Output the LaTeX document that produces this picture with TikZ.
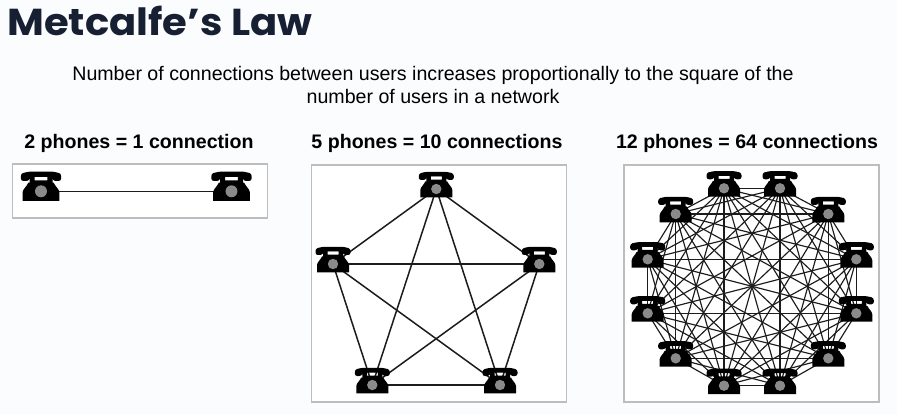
\documentclass[tikz,border=0pt]{standalone}
\usepackage{fontspec}
\setmainfont{Liberation Sans}
\newfontfamily\titlefont{Poppins}[FakeStretch=1.07]
\usetikzlibrary{backgrounds}
\definecolor{pagebg}{HTML}{FBFCFD}
\definecolor{titleink}{HTML}{172033}
\definecolor{frameink}{HTML}{BDBDBD}
\definecolor{dialink}{HTML}{8A8A8A}
\definecolor{wireink}{HTML}{1C1C1C}
\tikzset{
  phonespot/.style={inner sep=0pt,minimum size=1pt},
  panel/.style={draw=frameink,line width=1.2pt,fill=white,inner sep=0pt,minimum width=255pt},
  wire/.style={draw=wireink,line width=1.5pt},
  thinwire/.style={draw=wireink,line width=1.15pt},
  headline/.style={inner sep=0pt,anchor=center,font=\bfseries\fontsize{19.6}{22}\selectfont,text=black},
  bodytext/.style={inner sep=0pt,anchor=center,align=center,font=\fontsize{19.6}{23.5}\selectfont,text=black}
}
% name, x, y, scale: the node sits at the centre of the dial
\newcommand{\phone}[4]{%
  \node[phonespot] (#1) at (#2,#3) {};
  \begin{scope}[shift={(#2,#3)},scale=#4]
    \fill[black,rounded corners=2.4pt] (-17.5,-9) -- (-17.5,-15.5) -- (-10,-17.2) -- (10,-17.2) -- (17.5,-15.5) -- (17.5,-9) -- (10.5,-9) -- (9.5,-12.5) -- (-9.5,-12.5) -- (-10.5,-9) -- cycle;
    \fill[black] (-10,-14) rectangle (-5.5,-6) (5.5,-14) rectangle (10,-6) (-10,-14) rectangle (10,-12.8) (-10,-9.4) rectangle (10,-6);
    \fill[black] (-11,-7.5) -- (11,-7.5) .. controls (12.5,-4) and (15.8,-2) .. (16,1) -- (16,8.3) -- (-16,8.3) -- (-16,1) .. controls (-15.8,-2) and (-12.5,-4) .. (-11,-7.5) -- cycle;
    \fill[dialink] (0,0) circle (5.2);
  \end{scope}
}
\begin{document}
\begin{tikzpicture}[x=1pt,y=-1pt]
\useasboundingbox (0,0) rectangle (897,414);
\node[inner sep=0pt,anchor=base west,text=titleink] (title) at (7,36) {\titlefont\bfseries\fontsize{37.5}{40}\selectfont Metcalfe’s Law};
\node[bodytext] (intro) at (433,85) {Number of connections between users increases proportionally to the square of the\\number of users in a network};
\node[headline] (h1) at (139,143) {2 phones = 1 connection};
\node[headline] (h2) at (437,143) {5 phones = 10 connections};
\node[headline] (h3) at (747,143) {12 phones = 64 connections};
% two phones
\phone{a1}{41}{191.3}{1.15}
\phone{a2}{231.5}{191.3}{1.15}
% five phones
\phone{b1}{436.3}{189}{1}
\phone{b2}{539.3}{264}{1}
\phone{b3}{500}{385}{1}
\phone{b4}{372.3}{385}{1}
\phone{b5}{333}{264}{1}
% twelve phones
\phone{c1}{724}{188.3}{1}
\phone{c2}{780}{188.3}{1}
\phone{c3}{828.3}{214}{1}
\phone{c4}{856.3}{259.3}{1}
\phone{c5}{856.3}{313.3}{1}
\phone{c6}{828.3}{358.3}{1}
\phone{c7}{780}{385.7}{1}
\phone{c8}{724}{385.7}{1}
\phone{c9}{675.7}{358.3}{1}
\phone{c10}{647.7}{313.3}{1}
\phone{c11}{647.7}{259.3}{1}
\phone{c12}{675.7}{214}{1}
\begin{scope}[on background layer]
  \fill[pagebg] (0,0) rectangle (897,414);
  \node[panel,minimum height=54pt] (f1) at (140,191) {};
  \node[panel,minimum height=237pt] (f2) at (439,283.5) {};
  \node[panel,minimum height=237pt] (f3) at (751.5,283.5) {};
  \draw[wire] (a1.center) -- (a2.center);
  \foreach \i in {1,...,4}{
    \pgfmathtruncatemacro{\first}{\i+1}
    \foreach \j in {\first,...,5}{
      \draw[wire] (b\i.center) -- (b\j.center);
    }
  }
  \foreach \i in {1,...,11}{
    \pgfmathtruncatemacro{\first}{\i+1}
    \foreach \j in {\first,...,12}{
      \draw[thinwire] (c\i.center) -- (c\j.center);
    }
  }
\end{scope}
\end{tikzpicture}
\end{document}
